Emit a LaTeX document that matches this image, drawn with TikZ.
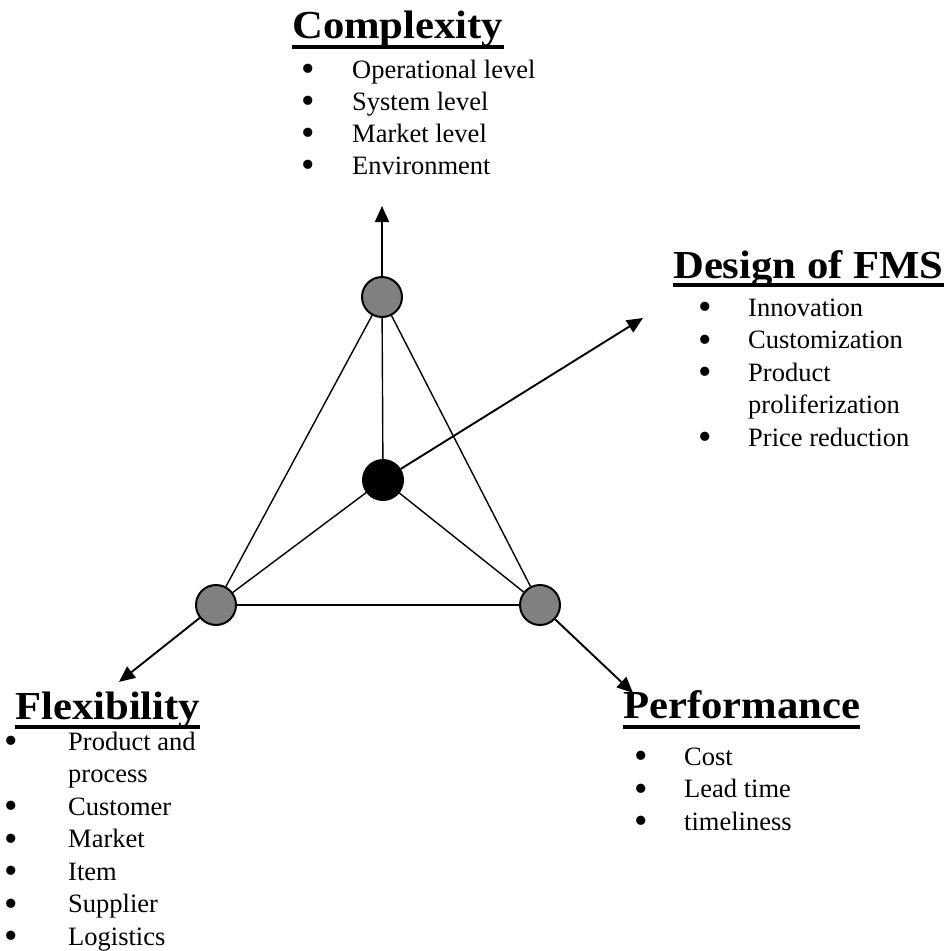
\documentclass[tikz,border=0pt]{standalone}
\usepackage{fontspec}
\setmainfont{Liberation Serif}
\usetikzlibrary{arrows.meta}
\definecolor{nodegray}{RGB}{128,128,128}
\newcommand\bodyfont{\fontsize{26.5}{32}\selectfont}
\newcommand\headfont{\fontsize{42.7}{44}\selectfont\bfseries}
\newcommand\bigbullet{\raisebox{-3.5pt}{\scalebox{1.45}{\textbullet}}}
\begin{document}
\begin{tikzpicture}[x=1pt,y=-1pt,
  vertex/.style={circle,draw=black,line width=2pt,fill=nodegray,minimum size=40pt,inner sep=0pt},
  edge/.style={line width=1.4pt},
  axis/.style={line width=1.9pt,-{Triangle[length=16pt,width=14pt]}},
  head/.style={anchor=base west,inner sep=0pt,font=\headfont},
  underbar/.style={line width=4pt},
  bul/.style={anchor=base,inner sep=0pt,font=\bodyfont},
  item/.style={anchor=base west,inner sep=0pt,font=\bodyfont}]
\useasboundingbox (0,0) rectangle (946,951);

% the four vertices
\node[vertex] (T) at (382,297) {};
\node[vertex,fill=black] (C) at (383,480) {};
\node[vertex] (L) at (216,605) {};
\node[vertex] (R) at (540,605) {};

% free ends of the four axes
\coordinate (tipT) at (382,206);
\coordinate (tipD) at (643,318);
\coordinate (tipL) at (119,682);
\coordinate (tipR) at (633,693);

% tetrahedron edges
\draw[edge] (T) -- (L);
\draw[edge] (T) -- (R);
\draw[edge] (T) -- (C);
\draw[edge] (C) -- (L);
\draw[edge] (C) -- (R);
\draw[edge] (L) -- (R);

% axes
\draw[axis] (T) -- (tipT);
\draw[axis] (C) -- (tipD);
\draw[axis] (L) -- (tipL);
\draw[axis] (R) -- (tipR);

% Complexity
\node[head] (hC) at (292,38) {\scalebox{1}[0.93]{Complexity}};
\draw[underbar] ([yshift=-8.5pt]hC.base west) -- ([yshift=-8.5pt]hC.base east);
\foreach \txt [count=\k from 0] in {Operational level,System level,Market level,Environment}{
  \node[bul] (cb\k) at (308,{78+32*\k}) {\bigbullet};
  \node[item] (ct\k) at (352,{78+32*\k}) {\txt};
}

% Design of FMS
\node[head] (hD) at (673,278) {\scalebox{1}[0.93]{Design of FMS}};
\draw[underbar] ([yshift=-6.5pt]hD.base west) -- ([yshift=-6.5pt]hD.base east);
\node[bul] (db0) at (705,316) {\bigbullet};
\node[item] (dt0) at (748,316) {Innovation};
\node[bul] (db1) at (705,348.5) {\bigbullet};
\node[item] (dt1) at (748,348.5) {Customization};
\node[bul] (db2) at (705,381) {\bigbullet};
\node[item] (dt2) at (748,381) {Product};
\node[item] (dt3) at (748,413.5) {proliferization};
\node[bul] (db4) at (705,446) {\bigbullet};
\node[item] (dt4) at (748,446) {Price reduction};

% Performance
\node[head] (hP) at (623,718) {\scalebox{1}[0.93]{Performance}};
\draw[underbar] ([yshift=-9pt]hP.base west) -- ([yshift=-9pt]hP.base east);
\foreach \txt [count=\k from 0] in {Cost,Lead time,timeliness}{
  \node[bul] (pb\k) at (641,{765+32.5*\k}) {\bigbullet};
  \node[item] (pt\k) at (684,{765+32.5*\k}) {\txt};
}

% Flexibility
\node[head] (hF) at (15,719) {\scalebox{1}[0.93]{Flexibility}};
\draw[underbar] ([yshift=-8pt]hF.base west) -- ([yshift=-8pt]hF.base east);
\node[bul] (fb0) at (11,750) {\bigbullet};
\node[item] (ft0) at (68,750) {Product and};
\node[item] (ft1) at (68,782.5) {process};
\foreach \txt [count=\k from 2] in {Customer,Market,Item,Supplier,Logistics}{
  \node[bul] (fb\k) at (11,{750+32.5*\k}) {\bigbullet};
  \node[item] (ft\k) at (68,{750+32.5*\k}) {\txt};
}
\end{tikzpicture}
\end{document}
